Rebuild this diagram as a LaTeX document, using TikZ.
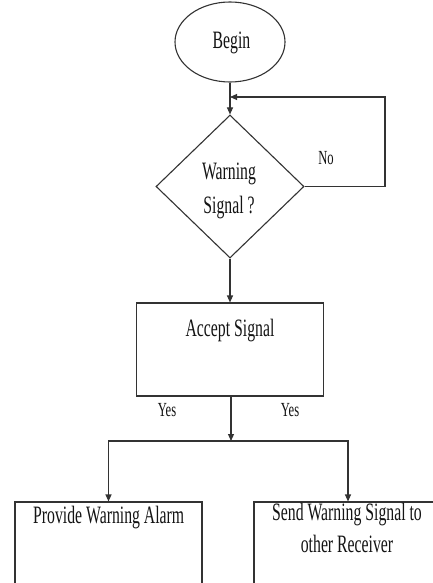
\documentclass[tikz,border=0pt]{standalone}
\usepackage{fontspec}
\setmainfont{Liberation Serif}[FakeStretch=0.63]
\usetikzlibrary{shapes.geometric,arrows.meta}
\begin{document}
\begin{tikzpicture}[x=1pt,y=-1pt,
  line/.style={draw=black!80,line width=1.1pt},
  arr/.style={line,-{Triangle[length=7pt,width=6pt]}},
  txt/.style={anchor=base,inner sep=0pt,text=black!92,font=\fontsize{25}{30}\selectfont},
  small/.style={anchor=base,inner sep=0pt,text=black!92,font=\fontsize{20}{24}\selectfont},
  boxshape/.style={line,rectangle,inner sep=0pt,fill=white}]
\useasboundingbox (0,0) rectangle (433,583);
\clip (0,0) rectangle (433,583);
\fill[white] (0,0) rectangle (433,583);
% shapes
\node[line,ellipse,minimum width=110pt,minimum height=80pt,inner sep=0pt] (begin) at (230,42) {};
\node[line,diamond,minimum width=148pt,minimum height=143pt,inner sep=0pt] (dec) at (230,186.5) {};
\node[boxshape,minimum width=187pt,minimum height=93pt] (acc) at (230,349.5) {};
\node[boxshape,minimum width=187pt,minimum height=110pt] (alarm) at (108.5,557) {};
\node[boxshape,minimum width=188pt,minimum height=110pt] (send) at (348,557) {};
% texts
\node[txt] (tbegin) at (231.5,48.5) {Begin};
\node[txt] (twarn1) at (229,179) {Warning};
\node[txt] (twarn2) at (229,213) {Signal ?};
\node[small] (tno) at (326,164) {No};
\node[txt] (tacc) at (230,336) {Accept Signal};
\node[small] (tyes1) at (167,416) {Yes};
\node[small] (tyes2) at (290,416) {Yes};
\node[txt] (talarm) at (108.7,523) {Provide Warning Alarm};
\node[txt] (tsend1) at (347,520) {Send Warning Signal to};
\node[txt] (tsend2) at (347,552) {other Receiver};
% connectors
\coordinate (fbc) at (385,97);
\coordinate (loopin) at (230,97);
\coordinate (split) at (231,441);
\draw[arr] (begin.south) -- (dec.north);
\draw[arr] (dec.east) -| (fbc) -- (loopin);
\draw[arr] (dec.south) -- (acc.north);
\draw[arr] (acc.south -| split) -- (split);
\draw[arr] (split) -| (alarm.north);
\draw[arr] (split) -| (send.north);
\end{tikzpicture}
\end{document}
